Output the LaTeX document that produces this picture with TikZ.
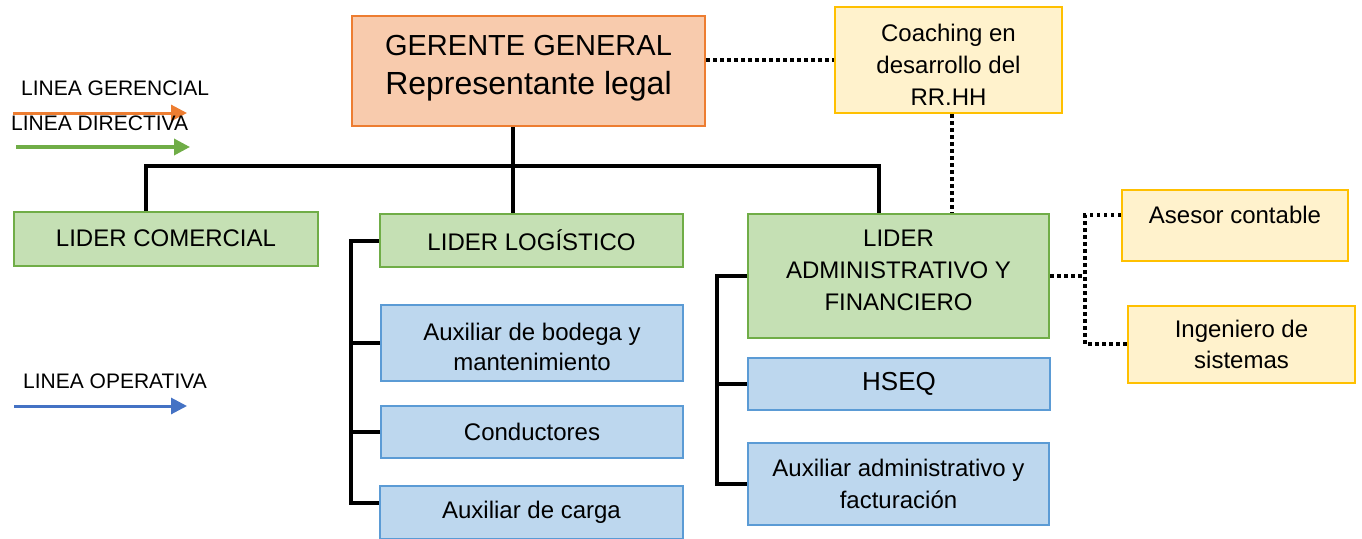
\documentclass[tikz,border=0pt]{standalone}
\usepackage{fontspec}
\setmainfont{Liberation Sans}
\usepackage{xcolor}
\usepackage{tikz}
\usetikzlibrary{positioning,arrows.meta}

\definecolor{peach}{HTML}{F8CBAD}
\definecolor{orangeline}{HTML}{ED7D31}
\definecolor{leafgreen}{HTML}{C5E0B4}
\definecolor{greenline}{HTML}{70AD47}
\definecolor{skyblue}{HTML}{BDD7EE}
\definecolor{blueline}{HTML}{5B9BD5}
\definecolor{arrowblue}{HTML}{4472C4}
\definecolor{cream}{HTML}{FFF2CC}
\definecolor{goldline}{HTML}{FFC000}

\begin{document}
\begin{tikzpicture}[x=1pt,y=-1pt,
    box/.style={rectangle,draw,line width=2pt,inner sep=2pt,align=center,
        font=\fontsize{24}{31}\selectfont},
    boss/.style={box,fill=peach,draw=orangeline,font=\fontsize{29}{39}\selectfont},
    lead/.style={box,fill=leafgreen,draw=greenline},
    aux/.style={box,fill=skyblue,draw=blueline},
    adv/.style={box,fill=cream,draw=goldline},
    legend/.style={anchor=west,inner sep=0pt,font=\fontsize{21}{25}\selectfont},
    conn/.style={-,line width=4pt,black},
    dots/.style={-,line width=3.5pt,black,dash pattern=on 3.5pt off 3.5pt},
    legarrow/.style={-{Triangle[length=16pt,width=16pt]},line width=3.5pt}]

    \useasboundingbox (0,0) rectangle (1362,538);

    % Legend
    \coordinate (og1) at (13,113);
    \coordinate (og2) at (187,113);
    \coordinate (gr1) at (16,147);
    \coordinate (gr2) at (190,147);
    \coordinate (bl1) at (14,406);
    \coordinate (bl2) at (187,406);
    \draw[legarrow,orangeline,line width=3pt] (og1) -- (og2);
    \draw[legarrow,greenline] (gr1) -- (gr2);
    \draw[legarrow,arrowblue,line width=3pt] (bl1) -- (bl2);
    \node [legend] at (21,88) (lgen) {LINEA GERENCIAL};
    \node [legend] at (11,123) (ldir) {LINEA DIRECTIVA};
    \node [legend] at (23,381) (lope) {LINEA OPERATIVA};

    % The chart
    \node [boss,minimum width=353pt,minimum height=110pt,text depth=13pt] at (528.5,71) (ger) {GERENTE GENERAL\\{\fontsize{32}{39}\selectfont Representante legal}};
    \node [adv,minimum width=227pt,minimum height=106pt,text height=90pt,font=\fontsize{24}{32}\selectfont] at (948.5,60) (coach) {Coaching en\\desarrollo del\\RR.HH};

    \node [lead,minimum width=304pt,minimum height=54pt] at (166,238.5) (com) {LIDER COMERCIAL};
    \node [lead,minimum width=303pt,minimum height=53pt] at (531.5,240.5) (lg) {LIDER LOGÍSTICO};
    \node [lead,minimum width=301pt,minimum height=124pt,text depth=12pt,font=\fontsize{24}{32}\selectfont] at (898.5,276) (adm) {LIDER\\ADMINISTRATIVO Y\\FINANCIERO};

    \node [aux,minimum width=302pt,minimum height=76pt,text height=56pt,font=\fontsize{24}{30}\selectfont] at (532,343) (bod) {Auxiliar de bodega y\\mantenimiento};
    \node [aux,minimum width=302pt,minimum height=52pt] at (532,432) (cond) {Conductores};
    \node [aux,minimum width=303pt,minimum height=53pt] at (531.5,512.5) (carga) {Auxiliar de carga};

    \node [aux,minimum width=302pt,minimum height=52pt,font=\fontsize{26}{31}\selectfont] at (899,384) (hseq) {HSEQ};
    \node [aux,minimum width=301pt,minimum height=82pt,font=\fontsize{24}{32}\selectfont] at (898.5,484) (auxadm) {Auxiliar administrativo y\\facturación};

    \node [adv,minimum width=226pt,minimum height=71pt,text depth=21pt] at (1235,225) (ase) {Asesor contable};
    \node [adv,minimum width=227pt,minimum height=77pt] at (1241.5,344) (ing) {Ingeniero de\\sistemas};

    % Chart lines
    \coordinate (busL) at (146,166);
    \coordinate (busM) at (513,166);
    \coordinate (busR) at (879,166);
    \coordinate (fork) at (1085,274);

    \draw[conn] (ger.south -| busM) -- (lg.north -| busM);
    \draw[conn] (com.north -| busL) -- (busL) -- (busR) -- (adm.north -| busR);

    \draw[conn] (lg.west) -- ++(-28,0) |- ([yshift=10pt]carga.west);
    \draw[conn] (bod.west) -- ++(-28,0);
    \draw[conn] (cond.west) -- ++(-28,0);

    \draw[conn] (adm.west) -- ++(-30,0) |- (auxadm.west);
    \draw[conn] (hseq.west) -- ++(-30,0);

    % Staff lines
    \draw[dots] (coach.west -| ger.east) -- (coach.west);
    \draw[dots] ([xshift=3.5pt]coach.south) -- ([xshift=3.5pt]coach.south |- adm.north);
    \draw[dots] (adm.east) -- (adm.east -| fork);
    \draw[dots] ([yshift=10pt]ase.west) -| (fork) |- (ing.west);

\end{tikzpicture}
\end{document}
